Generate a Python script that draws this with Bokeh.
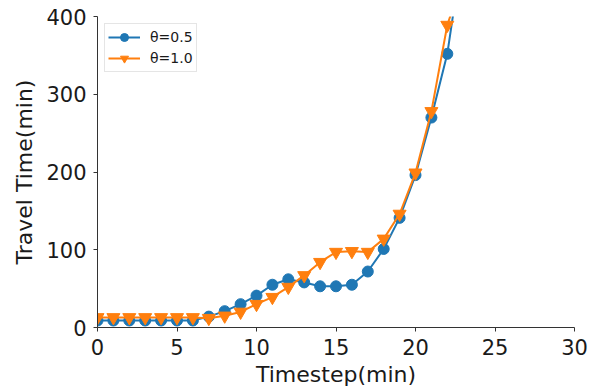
from bokeh.plotting import figure
from bokeh.models import Range1d, SingleIntervalTicker, Legend, LegendItem, ColumnDataSource
from bokeh.embed import file_html
from bokeh.resources import INLINE

timestep = list(range(0, 24))
theta_05 = [9, 9, 9, 9, 9, 9, 9, 14, 21, 30, 41, 55, 62, 58, 53, 53, 55, 72, 101, 141, 196, 270, 352, 490]
theta_10 = [13, 13, 13, 13, 13, 13, 13, 12, 15, 20, 30, 39, 52, 67, 84, 97, 98, 97, 114, 146, 199, 278, 389, 450]
labels = ["θ=0.5", "θ=1.0"]

BLUE = "#1f77b4"
ORANGE = "#ff7f0e"
FONT = "DejaVu Sans"
TXT = "#1a1a1a"

p = figure(width=599, height=392, output_backend="svg", toolbar_location=None,
           x_range=Range1d(0, 30), y_range=Range1d(0, 400),
           min_border_left=97, min_border_right=25, min_border_top=16, min_border_bottom=65)
p.outline_line_color = None
p.xgrid.visible = False
p.ygrid.visible = False
p.background_fill_color = "white"
p.border_fill_color = "white"

src = ColumnDataSource(dict(x=timestep, a=theta_05, b=theta_10))

l1 = p.line("x", "a", source=src, line_color=BLUE, line_width=2)
m1 = p.scatter("x", "a", source=src, marker="circle", size=11, fill_color=BLUE, line_color=BLUE)
l2 = p.line("x", "b", source=src, line_color=ORANGE, line_width=2)
m2 = p.scatter("x", "b", source=src, marker="inverted_triangle", size=13, fill_color=ORANGE, line_color=ORANGE)

p.xaxis.ticker = SingleIntervalTicker(interval=5)
p.yaxis.ticker = SingleIntervalTicker(interval=100)
for ax in (p.xaxis[0], p.yaxis[0]):
    ax.axis_line_color = "#333333"
    ax.axis_line_width = 1
    ax.major_tick_line_color = "#333333"
    ax.major_tick_in = 0
    ax.major_tick_out = 4
    ax.minor_tick_line_color = None
    ax.major_label_text_font = FONT
    ax.major_label_text_font_size = "21px"
    ax.major_label_text_color = TXT
    ax.axis_label_text_font = FONT
    ax.axis_label_text_font_size = "22px"
    ax.axis_label_text_font_style = "normal"
    ax.axis_label_text_color = TXT
    ax.major_label_standoff = 7

p.xaxis.axis_label_standoff = 4
p.yaxis.axis_label_standoff = 6
p.xaxis.axis_label = "Timestep(min)"
p.yaxis.axis_label = "Travel Time(min)"

legend = Legend(items=[LegendItem(label=labels[0], renderers=[l1, m1]),
                       LegendItem(label=labels[1], renderers=[l2, m2])],
                location="top_left")
legend.margin = 7
legend.padding = 3
legend.spacing = 1
legend.glyph_width = 32
legend.glyph_height = 20
legend.label_height = 20
legend.label_standoff = 10
legend.label_text_font = FONT
legend.label_text_font_size = "14px"
legend.label_text_color = TXT
legend.border_line_color = "#cccccc"
legend.border_line_width = 1
legend.background_fill_color = "white"
legend.background_fill_alpha = 0.8
p.add_layout(legend)

open("out.html", "w").write(file_html(p, INLINE))
